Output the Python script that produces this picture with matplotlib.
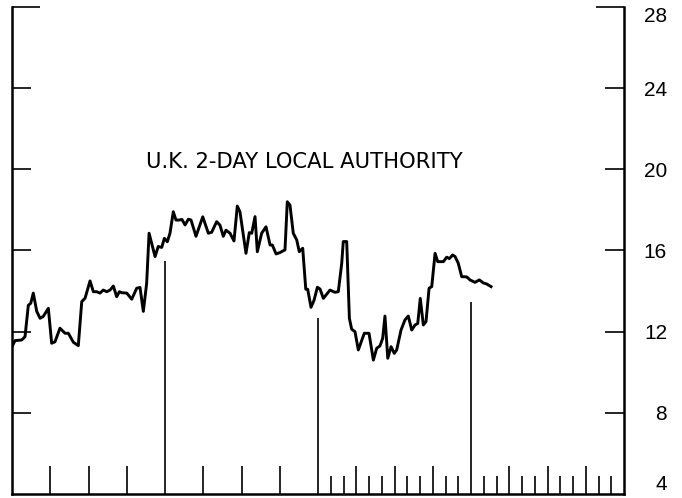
import numpy as np
import matplotlib
matplotlib.use("Agg")
import matplotlib.pyplot as plt

# months from start of the chart, rate in percent
months = [0.00, 0.24, 0.76, 1.02, 1.28, 1.47, 1.67, 1.94, 2.20, 2.45, 2.85, 3.11,
          3.37, 3.76, 4.16, 4.42, 4.81, 5.20, 5.47, 5.73, 6.12, 6.38, 6.64, 6.90,
          7.16, 7.43, 7.69, 7.95, 8.21, 8.42, 8.60, 9.00, 9.39, 9.78, 10.04, 10.30,
          10.56, 10.75, 11.22, 11.47, 11.74, 11.95, 12.18, 12.39, 12.65, 12.86, 13.12,
          13.33, 13.57, 13.83, 14.04, 14.43, 14.96, 15.40, 15.66, 16.05, 16.31, 16.57,
          16.78, 17.10, 17.41, 17.67, 17.88, 18.35, 18.61, 18.80, 19.06, 19.24, 19.58,
          19.92, 20.24, 20.42, 20.71, 21.02, 21.41, 21.59, 21.80, 22.06, 22.33, 22.53,
          22.80, 23.04, 23.19, 23.45, 23.69, 23.95, 24.16, 24.42, 24.94, 25.33, 25.59,
          25.86, 25.98, 26.25, 26.46, 26.64, 26.90, 27.16, 27.63, 28.00, 28.34, 28.60,
          28.86, 29.07, 29.25, 29.47, 29.73, 29.98, 30.17, 30.51, 30.82, 31.08, 31.35,
          31.61, 31.82, 32.02, 32.26, 32.47, 32.71, 32.92, 33.18, 33.39, 33.83, 34.09,
          34.30, 34.56, 34.75, 35.00, 35.27, 35.66, 35.92, 36.31, 36.65, 36.97, 37.23,
          37.57]
rate = [11.26, 11.56, 11.59, 11.75, 13.30, 13.40, 13.90, 13.00, 12.66, 12.75, 13.15, 11.43,
        11.50, 12.17, 11.92, 11.92, 11.48, 11.31, 13.48, 13.65, 14.50, 13.97, 13.97, 13.90,
        14.05, 13.97, 14.05, 14.25, 13.72, 13.97, 13.92, 13.90, 13.60, 14.14, 14.18, 13.00,
        14.38, 16.85, 15.70, 16.20, 16.15, 16.60, 16.43, 16.85, 17.91, 17.50, 17.50,
        17.53, 17.26, 17.54, 17.50, 16.70, 17.66, 16.85, 16.90, 17.42, 17.25, 16.70,
        17.00, 16.85, 16.47, 18.19, 17.90, 15.86, 16.88, 16.85, 17.67, 15.94, 16.85,
        17.17, 16.27, 16.27, 15.83, 15.90, 16.03, 18.40, 18.24, 16.85, 16.52, 15.94,
        16.11, 14.09, 14.09, 13.20, 13.55, 14.19, 14.10, 13.64, 14.05, 13.94, 13.97,
        15.37, 16.44, 16.44, 12.66, 12.12, 12.00, 11.10, 11.92, 11.92, 10.60, 11.18,
        11.30, 11.67, 12.77, 10.69, 11.26, 10.93, 11.10, 12.08, 12.58, 12.77, 12.08,
        12.33, 12.40, 13.64, 12.33, 12.50, 14.14, 14.22, 15.86, 15.45, 15.45, 15.67,
        15.60, 15.78, 15.70, 15.37, 14.71, 14.70, 14.55, 14.43, 14.55, 14.40, 14.35,
        14.22]

year_marks = [12, 24, 36]
year_mark_tops = [15.48, 12.67, 13.46]
quarter_ticks = [3, 6, 9, 15, 18, 21, 27, 30, 33, 39, 42, 45]
month_ticks = [25, 26, 28, 29, 31, 32, 34, 35, 37, 38, 40, 41, 43, 44, 46, 47]
y_ticks = [4, 8, 12, 16, 20, 24, 28]
title = "U.K. 2-DAY LOCAL AUTHORITY"

plt.rcParams['font.family'] = ['Liberation Sans', 'DejaVu Sans']

fig = plt.figure(figsize=(6.82, 4.98), dpi=100)
ax = fig.add_axes([0.0176, 0.008, 0.8974, 0.978])

ax.plot(months, rate, color='black', lw=2.1, solid_joinstyle='round')
ax.vlines(year_marks, 4, year_mark_tops, color='black', lw=1.2)

ax.set_xlim(0, 48)
ax.set_ylim(4, 28)

ax.spines['top'].set_visible(False)
for s in ['left', 'right', 'bottom']:
    ax.spines[s].set_linewidth(1.8)

# x ticks: quarters tall, months short
ax.set_xticks(quarter_ticks)
ax.set_xticks(month_ticks, minor=True)
ax.tick_params(axis='x', which='major', direction='in', length=20, width=1.2,
               labelbottom=False)
ax.tick_params(axis='x', which='minor', direction='in', length=13, width=1.2)

# y ticks both sides, labels on the right
ax.set_yticks(y_ticks)
ax.set_yticklabels([str(v) for v in y_ticks])
ax.tick_params(axis='y', which='both', direction='in', length=14, width=1.2,
               left=True, right=True, labelleft=False, labelright=True,
               labelsize=15, pad=31)
labels = ax.get_yticklabels()
for lab in labels:
    lab.set_horizontalalignment('right')
labels[0].set_verticalalignment('bottom')
labels[-1].set_verticalalignment('top')

# no tick at the bottom corners, longer ticks at the top corners
ticks = ax.yaxis.get_major_ticks()
ticks[0].tick1line.set_visible(False)
ticks[0].tick2line.set_visible(False)
ticks[-1].tick1line.set_markersize(20)
ticks[-1].tick2line.set_markersize(20)

ax.text(22.9, 20.35, title, ha='center', va='center', fontsize=15.2,
        family='DejaVu Sans')

fig.savefig("out.png", dpi=100)
